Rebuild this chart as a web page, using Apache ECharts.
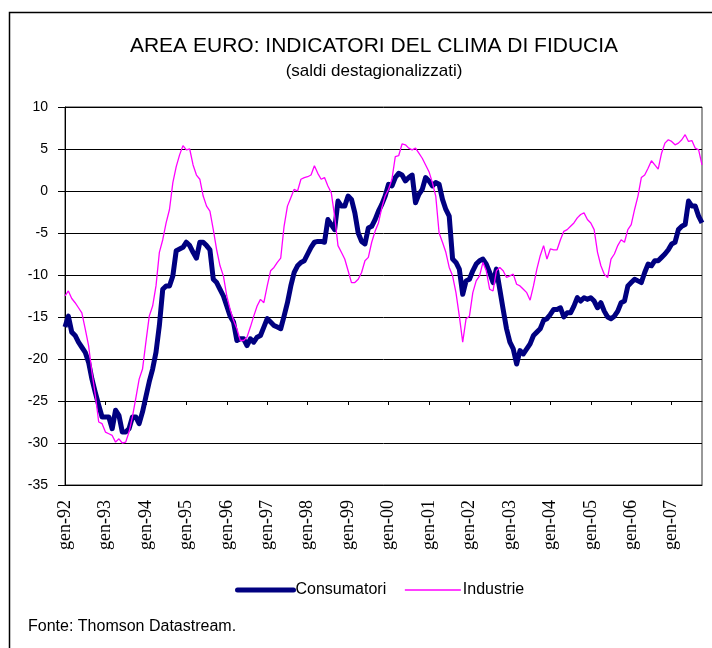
<!DOCTYPE html>
<html>
<head>
    <meta charset="utf-8">
    <title>Area euro: indicatori del clima di fiducia</title>
    <script src="https://cdn.jsdelivr.net/npm/echarts@6/dist/echarts.min.js"></script>
    <style>
        html, body { margin: 0; padding: 0; background: #fff; }
        #chart1 { width: 712px; height: 648px; }
    </style>
</head>
<body>
<div id="chart1"></div>
<script type="text/javascript">
    // mesi da gen-92 a ott-07
    var mesi = ['gen', 'feb', 'mar', 'apr', 'mag', 'giu', 'lug', 'ago', 'set', 'ott', 'nov', 'dic'];
    var anni = ['92', '93', '94', '95', '96', '97', '98', '99', '00', '01', '02', '03', '04', '05', '06', '07'];
    var categorie = [];
    anni.forEach(function (a) {
        mesi.forEach(function (m) { categorie.push(m + '-' + a); });
    });
    categorie = categorie.slice(0, 190);

    // saldi destagionalizzati
    var consumatori = [
        -16.2, -14.9, -16.8, -17.2, -18.0, -18.6, -19.2, -20.4, -22.4, -24.0, -25.5, -26.9,
        -26.9, -26.9, -28.3, -26.1, -26.7, -28.7, -28.7, -28.3, -26.9, -26.9, -27.7, -26.3,
        -24.5, -22.7, -21.2, -19.2, -16.0, -11.7, -11.3, -11.3, -10.1, -7.1, -6.9, -6.7,
        -6.1, -6.5, -7.3, -8.0, -6.1, -6.1, -6.5, -7.0, -10.5, -10.9, -11.7, -12.5,
        -13.7, -14.9, -15.6, -17.8, -17.6, -17.6, -18.4, -17.6, -18.0, -17.4, -17.2, -16.2,
        -15.2, -15.6, -16.0, -16.2, -16.4, -14.9, -13.3, -11.3, -9.7, -8.9, -8.5, -8.3,
        -7.5, -6.7, -6.1, -6.0, -6.0, -6.1, -3.4, -4.0, -4.6, -1.2, -1.8, -1.8,
        -0.6, -1.0, -2.6, -5.0, -6.0, -6.3, -4.4, -4.2, -3.4, -2.4, -1.6, -0.6,
        0.8, 0.6, 1.6, 2.1, 1.9, 1.2, 1.6, 1.9, -1.4, -0.4, 0.2, 1.6,
        1.2, 0.6, 1.0, 0.8, -1.0, -2.2, -3.0, -8.1, -8.5, -9.3, -12.3, -10.7,
        -10.5, -9.5, -8.7, -8.3, -8.1, -8.7, -9.7, -10.9, -9.3, -11.7, -14.1, -16.4,
        -18.0, -18.8, -20.6, -19.0, -19.4, -18.8, -18.2, -17.2, -16.8, -16.4, -15.4, -15.2,
        -14.7, -14.1, -14.1, -13.9, -15.0, -14.5, -14.5, -13.7, -12.7, -13.1, -12.7, -12.9,
        -12.7, -13.1, -13.9, -13.3, -14.3, -15.0, -15.2, -14.9, -14.3, -13.3, -13.1, -11.3,
        -10.9, -10.5, -10.7, -10.9, -9.7, -8.7, -8.9, -8.3, -8.3, -7.9, -7.5, -7.0,
        -6.3, -6.1, -4.6, -4.2, -4.0, -1.2, -1.8, -1.8, -3.0, -3.8
    ];
    var industrie = [
        -12.5, -11.9, -12.8, -13.3, -13.9, -14.5, -16.4, -18.4, -21.6, -24.3, -27.5, -27.7,
        -28.7, -28.9, -29.1, -29.9, -29.5, -30.0, -29.9, -28.7, -26.9, -24.7, -22.4, -21.2,
        -18.0, -14.9, -13.7, -11.3, -7.3, -5.8, -3.8, -2.2, 1.0, 2.9, 4.3, 5.4,
        4.9, 5.0, 3.1, 1.9, 1.4, -0.6, -1.8, -2.4, -4.6, -7.0, -8.9, -10.1,
        -12.5, -14.1, -15.4, -16.4, -17.8, -17.8, -17.4, -16.2, -14.9, -13.7, -12.9, -13.3,
        -11.3, -9.5, -9.1, -8.5, -8.0, -4.2, -1.8, -0.8, 0.2, 0.0, 1.4, 1.6,
        1.7, 1.9, 3.0, 2.1, 1.4, 1.6, 0.6, -0.2, -3.0, -6.5, -7.3, -8.1,
        -9.5, -10.9, -10.9, -10.5, -9.7, -8.3, -7.9, -6.1, -4.8, -3.8, -2.0, -0.6,
        0.2, 1.4, 4.1, 4.2, 5.6, 5.5, 5.1, 4.9, 5.1, 4.5, 3.9, 3.1,
        2.3, 1.0, -0.6, -5.0, -6.1, -7.3, -9.1, -10.1, -12.1, -14.9, -18.0, -15.2,
        -14.9, -12.1, -10.7, -10.1, -8.5, -9.5, -11.7, -11.9, -9.5, -9.1, -9.5, -10.3,
        -10.1, -9.9, -11.1, -11.3, -11.7, -12.1, -13.0, -11.3, -9.3, -7.7, -6.5, -8.1,
        -6.9, -7.0, -7.0, -5.8, -4.8, -4.6, -4.2, -3.8, -3.2, -2.8, -2.6, -3.4,
        -3.8, -4.6, -7.3, -8.9, -9.9, -10.3, -8.1, -7.5, -6.5, -5.8, -6.1, -4.6,
        -4.0, -2.2, -0.6, 1.6, 1.9, 2.7, 3.6, 3.1, 2.6, 4.5, 5.7, 6.1,
        5.9, 5.5, 5.7, 6.1, 6.7, 5.9, 6.0, 5.1, 4.9, 3.1
    ];
    var yMin = -35, yMax = 10, yStep = 5;

    var myChart1 = echarts.init(document.getElementById('chart1'));
    var options = {
        animation: false,
        backgroundColor: '#fff',
        title: [{
            text: 'AREA EURO: INDICATORI DEL CLIMA DI FIDUCIA',
            left: 369, top: 31, textAlign: 'center',
            textStyle: { fontFamily: 'Liberation Sans', fontSize: 21, fontWeight: 'normal', color: '#000' }
        }, {
            text: '(saldi destagionalizzati)',
            left: 369, top: 58, textAlign: 'center',
            textStyle: { fontFamily: 'Liberation Sans', fontSize: 17, fontWeight: 'normal', color: '#000' }
        }],
        legend: {
            data: [
                { name: 'Consumatori', lineStyle: { width: 5, cap: 'round' } },
                { name: 'Industrie', lineStyle: { width: 1.3 } }
            ],
            left: 235, top: 582, padding: 0,
            itemWidth: 56, itemHeight: 16, itemGap: 18,
            itemStyle: { opacity: 0 },
            textStyle: { fontFamily: 'Liberation Sans', fontSize: 16, color: '#000', padding: [0, 0, 0, -3] }
        },
        grid: { left: 65, right: 10, top: 107, bottom: 163 },
        xAxis: [{
            type: 'category',
            data: categorie,
            boundaryGap: false,
            axisLine: { onZero: false, lineStyle: { color: '#000' } },
            axisTick: { show: false },
            axisLabel: {
                interval: 11, rotate: 90, margin: 15,
                fontFamily: 'Liberation Serif', fontSize: 18, color: '#000'
            },
            splitLine: { show: false }
        }, {
            // asse che incrocia a -25, con le tacche annuali
            type: 'category',
            data: categorie,
            boundaryGap: false,
            position: 'bottom',
            offset: -84,
            axisLine: { onZero: false, lineStyle: { color: '#000' } },
            axisTick: { show: true, interval: 11, length: 4, lineStyle: { color: '#000' } },
            axisLabel: { show: false },
            splitLine: { show: false }
        }],
        yAxis: {
            type: 'value',
            min: yMin, max: yMax, interval: yStep,
            axisLine: { show: true, lineStyle: { color: '#000' } },
            axisTick: { show: true, length: 7, lineStyle: { color: '#000' } },
            axisLabel: { fontFamily: 'Liberation Sans', fontSize: 14, color: '#000', margin: 17 },
            splitLine: { show: true, lineStyle: { color: '#000', width: 1 } }
        },
        graphic: [{
            type: 'rect',
            shape: { x: 9.5, y: 12.5, width: 720, height: 700 },
            style: { fill: null, stroke: '#000', lineWidth: 1.5 },
            silent: true
        }, {
            type: 'rect',
            shape: { x: 65, y: 107, width: 637, height: 378 },
            style: { fill: null, stroke: '#333', lineWidth: 1 },
            silent: true
        }, {
            type: 'text',
            left: 28, top: 619,
            style: { text: 'Fonte: Thomson Datastream.', fontFamily: 'Liberation Sans', fontSize: 16, fill: '#000' }
        }],
        series: [{
            name: 'Consumatori',
            type: 'line',
            data: consumatori,
            showSymbol: false,
            symbol: 'none',
            lineStyle: { color: '#000080', width: 5, join: 'round' },
            itemStyle: { color: '#000080' }
        }, {
            name: 'Industrie',
            type: 'line',
            data: industrie,
            showSymbol: false,
            symbol: 'none',
            lineStyle: { color: '#ff00ff', width: 1.3 },
            itemStyle: { color: '#ff00ff' }
        }]
    };
    myChart1.setOption(options);
    window.addEventListener('resize', function () {
        myChart1.resize()
    })
</script>
</body>
</html>
